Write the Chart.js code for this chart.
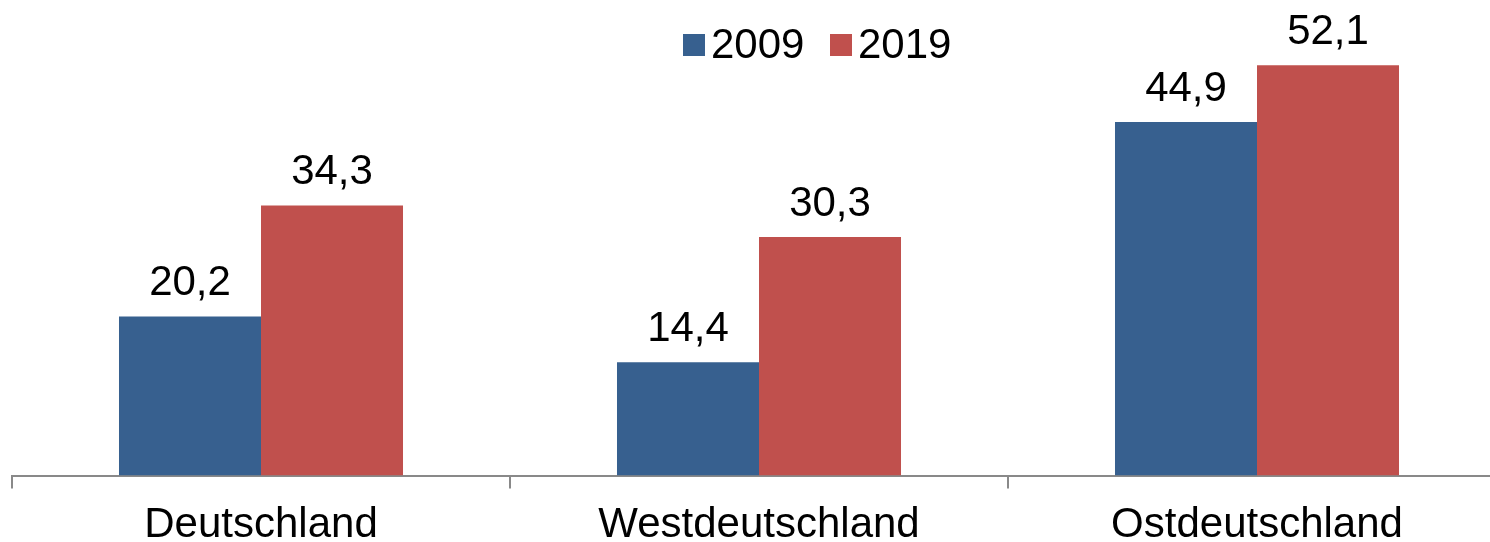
<!DOCTYPE html>
<html>
<head>
<meta charset="utf-8">
<script src="https://cdn.jsdelivr.net/npm/chart.js@4"></script>
<style>
  html, body { margin: 0; padding: 0; background: #fff; overflow: hidden; width: 1490px; height: 542px; }
  #wrap { position: absolute; left: 0; top: 0; width: 1510px; height: 563px; }
</style>
</head>
<body>
<div id="wrap"><canvas id="c"></canvas></div>
<script>
const categories = ['Deutschland', 'Westdeutschland', 'Ostdeutschland'];
const seriesNames = ['2009', '2019'];
const values2009 = [20.2, 14.4, 44.9];
const values2019 = [34.3, 30.3, 52.1];
const colors = ['#37608F', '#C0504D'];

const FONT = '"Liberation Sans", Arial, sans-serif';

function fmt(v) { return v.toFixed(1).replace('.', ','); }

const labelPlugin = {
  id: 'valueLabels',
  afterDatasetsDraw(chart) {
    const ctx = chart.ctx;
    ctx.save();
    ctx.font = '42px ' + FONT;
    ctx.fillStyle = '#000';
    ctx.textAlign = 'center';
    ctx.textBaseline = 'alphabetic';
    chart.data.datasets.forEach((ds, i) => {
      const meta = chart.getDatasetMeta(i);
      meta.data.forEach((bar, j) => {
        ctx.fillText(fmt(ds.data[j]), bar.x, bar.y - 21);
      });
    });
    // legend
    const legendPos = [{ box: 683, text: 711 }, { box: 830, text: 858 }];
    ctx.textAlign = 'left';
    chart.data.datasets.forEach((ds, i) => {
      ctx.fillStyle = ds.backgroundColor;
      ctx.fillRect(legendPos[i].box, 34, 22, 22);
      ctx.fillStyle = '#000';
      ctx.fillText(ds.label, legendPos[i].text, 58);
    });
    ctx.restore();
  }
};

new Chart(document.getElementById('c'), {
  type: 'bar',
  data: {
    labels: categories,
    datasets: [
      { label: seriesNames[0], data: values2009, backgroundColor: colors[0], borderWidth: 0 },
      { label: seriesNames[1], data: values2019, backgroundColor: colors[1], borderWidth: 0 }
    ]
  },
  options: {
    responsive: true,
    maintainAspectRatio: false,
    animation: false,
    devicePixelRatio: 1,
    layout: { padding: { left: 12, right: 4, top: 3, bottom: 0 } },
    plugins: { legend: { display: false }, tooltip: { enabled: false } },
    datasets: { bar: { categoryPercentage: 0.5703, barPercentage: 1 } },
    scales: {
      x: {
        grid: { display: true, drawOnChartArea: false, drawTicks: true, tickLength: 13, color: '#898989', lineWidth: 2, offset: true },
        border: { display: true, color: '#898989', width: 2 },
        ticks: { color: '#000', font: { family: FONT, size: 42, lineHeight: 1.2 }, padding: 12, maxRotation: 0 }
      },
      y: { display: false, min: 0, max: 60 }
    }
  },
  plugins: [labelPlugin]
});
</script>
</body>
</html>
